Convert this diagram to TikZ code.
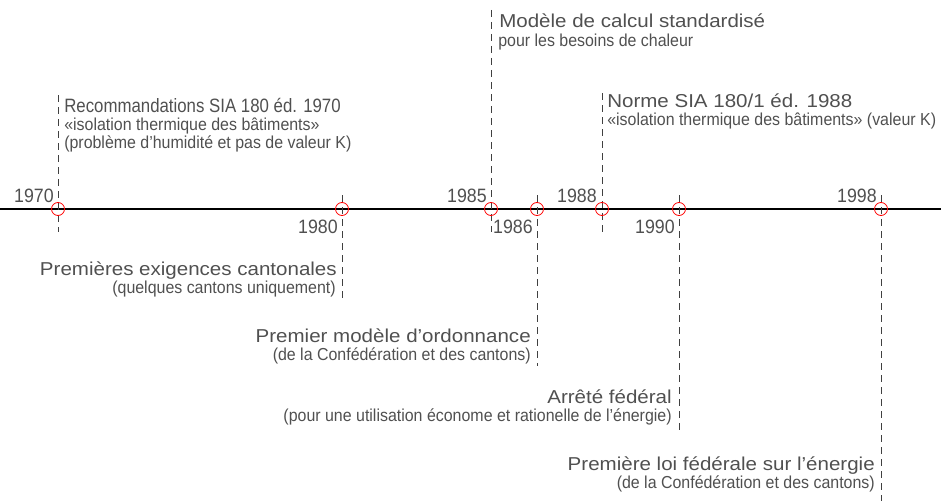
\documentclass[tikz,border=0pt]{standalone}
\usepackage{fontspec}
\setmainfont{Liberation Sans}
\newfontfamily\largefont[FakeStretch=1.1]{Liberation Sans}
\newfontfamily\etroitfont[FakeStretch=0.87]{Liberation Sans}
\newfontfamily\chiffrefont[FakeStretch=0.92]{Liberation Sans}
\newfontfamily\sousfont[FakeStretch=0.92]{Liberation Sans}
\definecolor{txtgray}{HTML}{505050}

\begin{document}
\begin{tikzpicture}[x=0.75pt,y=-0.75pt,
  annee/.style={font=\chiffrefont\fontsize{14.5}{17}\selectfont,text=txtgray,inner sep=0pt},
  titre/.style={font=\largefont\fontsize{14}{17}\selectfont,text=txtgray,inner sep=0pt},
  titreetroit/.style={font=\etroitfont\fontsize{14.5}{17}\selectfont,text=txtgray,inner sep=0pt},
  soustitre/.style={font=\sousfont\fontsize{13}{15}\selectfont,text=txtgray,inner sep=0pt},
  repere/.style={draw=red,line width=0.6pt},
  trait/.style={draw=black!75,line width=0.6pt,dash pattern=on 5pt off 4pt}]
  \useasboundingbox (0,0) rectangle (941,503);
  % axe du temps
  \coordinate (debut) at (0,209);
  \coordinate (fin) at (941,209);
  \draw[line width=2pt] (debut) -- (fin);
  % reperes
  \foreach \x/\n in {58/1970,342/1980,491/1985,537/1986,602/1988,679/1990,881/1998} {
    \coordinate (h\n) at (\x,195);
    \coordinate (b\n) at (\x,232);
  }
  % 1970
  \coordinate (haut1970) at (58,95);
  \draw[trait] (haut1970) -- (b1970);
  \draw (54,202) node[annee,anchor=base east] (a1970) {1970};
  \draw (64,112) node[titreetroit,anchor=base west] (t1970) {Recommandations SIA 180 éd. 1970};
  \draw (64,130) node[soustitre,anchor=base west] (s1970) {«isolation thermique des bâtiments»};
  \draw (64,148) node[soustitre,anchor=base west] (r1970) {(problème d’humidité et pas de valeur K)};
  % 1980
  \coordinate (bas1980) at (342,300);
  \draw[trait] (h1980) -- (bas1980);
  \draw (338,233) node[annee,anchor=base east] (a1980) {1980};
  \draw (337,275) node[titre,anchor=base east] (t1980) {Premières exigences cantonales};
  \draw (336,293) node[soustitre,anchor=base east] (s1980) {(quelques cantons uniquement)};
  % 1985
  \coordinate (haut1985) at (491,10);
  \draw[trait] (haut1985) -- (b1985);
  \draw (487,202) node[annee,anchor=base east] (a1985) {1985};
  \draw (499,28) node[titre,anchor=base west] (t1985) {Modèle de calcul standardisé};
  \draw (498,46) node[soustitre,anchor=base west] (s1985) {pour les besoins de chaleur};
  % 1986
  \coordinate (bas1986) at (537,366);
  \draw[trait] (h1986) -- (bas1986);
  \draw (533,233) node[annee,anchor=base east] (a1986) {1986};
  \draw (531,342) node[titre,anchor=base east] (t1986) {Premier modèle d’ordonnance};
  \draw (531,360) node[soustitre,anchor=base east] (s1986) {(de la Confédération et des cantons)};
  % 1988
  \coordinate (haut1988) at (602,93);
  \draw[trait] (haut1988) -- (b1988);
  \draw (597,202) node[annee,anchor=base east] (a1988) {1988};
  \draw (607,107) node[titre,anchor=base west] (t1988) {Norme SIA 180/1 éd. 1988};
  \draw (607,125) node[soustitre,anchor=base west] (s1988) {«isolation thermique des bâtiments» (valeur K)};
  % 1990
  \coordinate (bas1990) at (679,431);
  \draw[trait] (h1990) -- (bas1990);
  \draw (675,233) node[annee,anchor=base east] (a1990) {1990};
  \draw (672,403) node[titre,anchor=base east] (t1990) {Arrêté fédéral};
  \draw (672,421) node[soustitre,anchor=base east] (s1990) {(pour une utilisation économe et rationelle de l’énergie)};
  % 1998
  \coordinate (bas1998) at (881,501);
  \draw[trait] (h1998) -- (bas1998);
  \draw (877,202) node[annee,anchor=base east] (a1998) {1998};
  \draw (875,470) node[titre,anchor=base east] (t1998) {Première loi fédérale sur l’énergie};
  \draw (875,488) node[soustitre,anchor=base east] (s1998) {(de la Confédération et des cantons)};
  % cercles
  \foreach \x in {58,342,491,537,602,679,881}
    \draw[repere] (\x,209) circle (6.5);
\end{tikzpicture}
\end{document}
